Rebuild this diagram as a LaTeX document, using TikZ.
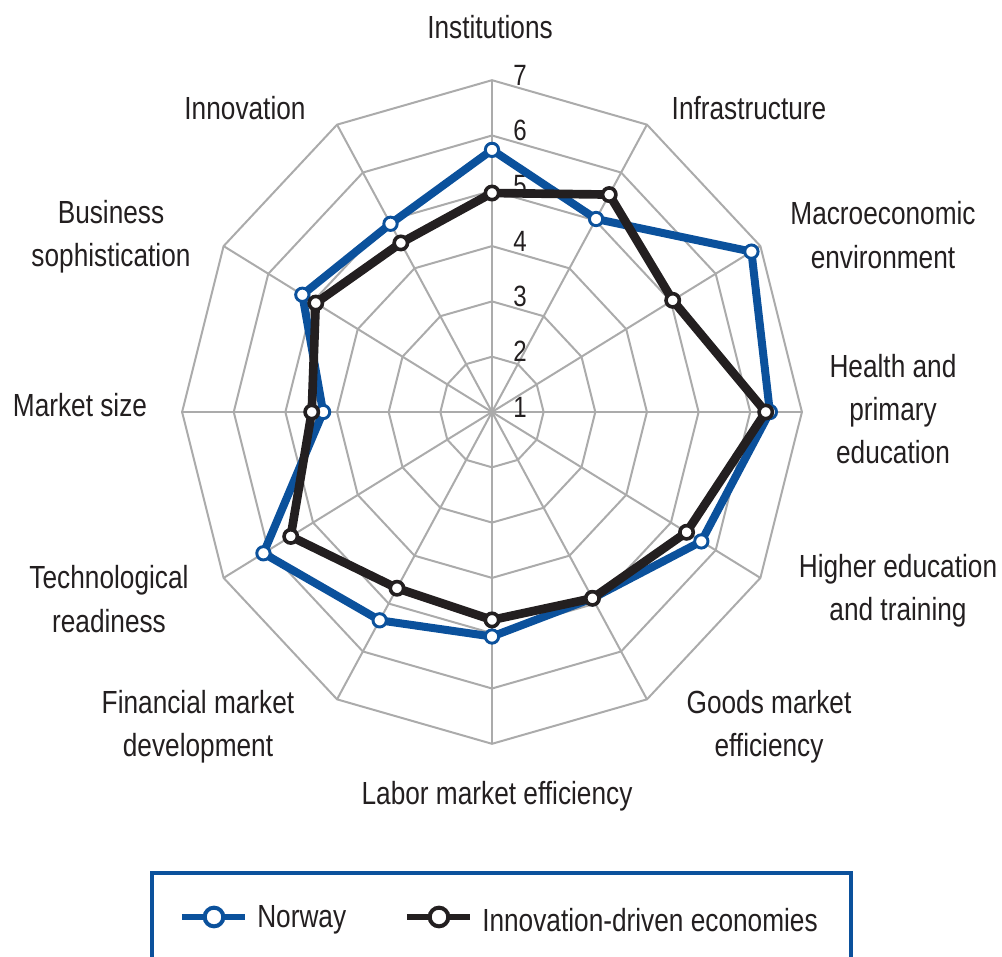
\documentclass[tikz,border=0pt]{standalone}
\usepackage{fontspec}
\setmainfont[FakeStretch=0.82]{Liberation Sans}
\usetikzlibrary{positioning}
\definecolor{nor}{HTML}{0B519C}
\definecolor{idx}{HTML}{231F20}
\definecolor{gridc}{HTML}{ABABAB}

\tikzset{
  gridline/.style={draw=gridc, line width=1.5pt},
  norline/.style={draw=nor, line width=6pt, line join=round},
  idxline/.style={draw=idx, line width=6.5pt, line join=round},
  normark/.style={circle, draw=nor, fill=white, line width=2.2pt, minimum size=10pt, inner sep=0pt},
  idxmark/.style={circle, draw=idx, fill=white, line width=2.7pt, minimum size=10pt, inner sep=0pt},
  axlbl/.style={text=idx, align=center, inner sep=1pt, font=\fontsize{24}{32.5}\selectfont},
  scalelbl/.style={text=idx, inner sep=0pt, font=\fontsize{22}{26}\selectfont},
  legbox/.style={draw=nor, line width=3pt}
}

\begin{document}
\begin{tikzpicture}[x=0.75pt, y=0.75pt]
  \useasboundingbox (-492,-544) rectangle (510,412);
  \coordinate (O) at (0,0);

  \begin{scope}[xscale=0.934] % chart is a bit narrower than tall
  % rings 2..7 and spokes
  \foreach \k [evaluate=\k as \r using (\k-1)*55.3] in {2,...,7}
    \draw[gridline] (90:\r) \foreach \a in {120,150,...,420} { -- (\a:\r) } -- cycle;
  \foreach \a in {0,30,...,330}
    \draw[gridline] (O) -- (\a:331.8);
  \end{scope}

  % scale
  \foreach \k in {1,...,7}
    \node[scalelbl] (s\k) at (28, {(\k-1)*55.3+5}) {\k};

  \begin{scope}[xscale=0.934]
  % Norway
  \foreach \v [count=\i] in {5.74,5.03,6.80,6.38,5.68,4.89,5.06,5.35,6.11,4.27,5.24,4.93}
    \coordinate (n\i) at ({120-30*\i}:{(\v-1)*55.3});
  \draw[norline] (n1) \foreach \i in {2,...,12} { -- (n\i) } -- cycle;
  \foreach \i in {1,...,12}
    \node[normark] (nm\i) at (n\i) {};

  % innovation-driven economies
  \foreach \v [count=\i] in {4.96,5.54,5.04,6.30,5.35,4.89,4.76,4.68,5.50,4.49,4.94,4.53}
    \coordinate (m\i) at ({120-30*\i}:{(\v-1)*55.3});
  \draw[idxline] (m1) \foreach \i in {2,...,12} { -- (m\i) } -- cycle;
  \foreach \i in {1,...,12}
    \node[idxmark] (mm\i) at (m\i) {};
  \end{scope}

  % axis labels
  \node[axlbl] (inst) at (-2,385) {Institutions};
  \node[axlbl] (infra) at (257,304) {Infrastructure};
  \node[axlbl] (macro) at (391,177) {Macroeconomic\\environment};
  \node[axlbl] (health) at (401,3) {Health and\\primary\\education};
  \node[axlbl] (higher) at (406,-179) {Higher education\\and training};
  \node[axlbl] (goods) at (277,-315) {Goods market\\efficiency};
  \node[axlbl] (labor) at (5,-384) {Labor market efficiency};
  \node[axlbl] (fin) at (-294,-315) {Financial market\\development};
  \node[axlbl] (tech) at (-383,-187) {Technological\\readiness};
  \node[axlbl] (msize) at (-412,7) {Market size};
  \node[axlbl] (busi) at (-381,175) {Business\\sophistication};
  \node[axlbl] (innov) at (-247,304) {Innovation};

  % legend
  \draw[legbox] (-340,-552) -- (-340,-461) -- (359,-461) -- (359,-552);
  \coordinate (lgnA) at (-310,-505);
  \coordinate (lgnB) at (-247,-505);
  \draw[draw=nor, line width=4.5pt] (lgnA) -- (lgnB);
  \node[normark, line width=3pt, minimum size=14pt] (lgnM) at (-278,-505) {};
  \node[axlbl, right=8pt of lgnB, yshift=-2pt] (lgnT) {Norway};
  \coordinate (lgiA) at (-85,-505);
  \coordinate (lgiB) at (-22,-505);
  \draw[draw=idx, line width=4.5pt] (lgiA) -- (lgiB);
  \node[idxmark, line width=3pt, minimum size=14pt] (lgiM) at (-53,-505) {};
  \node[axlbl, right=8pt of lgiB, yshift=-2pt] (lgiT) {Innovation-driven economies};
\end{tikzpicture}
\end{document}
